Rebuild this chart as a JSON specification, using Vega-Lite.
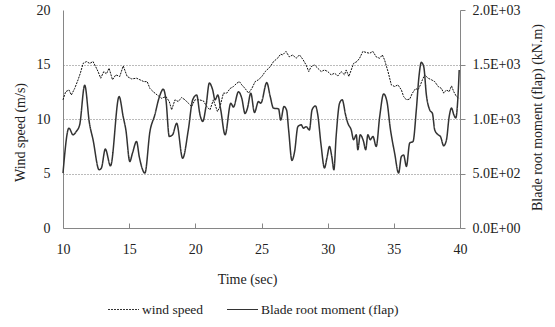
{
  "$schema": "https://vega.github.io/schema/vega-lite/v6.json",
  "width": 397,
  "height": 218,
  "autosize": {"type": "none"},
  "padding": {"left": 63, "top": 10, "right": 95, "bottom": 99},
  "background": "white",
  "config": {
    "view": {"stroke": null},
    "font": "Liberation Serif",
    "axis": {
      "labelFont": "Liberation Serif",
      "titleFont": "Liberation Serif",
      "labelFontSize": 14,
      "titleFontSize": 14,
      "titleFontWeight": "normal",
      "labelColor": "#222",
      "titleColor": "#222",
      "domainColor": "#868686",
      "tickColor": "#868686",
      "grid": false
    },
    "legend": {"labelFont": "Liberation Serif", "labelFontSize": 13.5, "labelColor": "#222"}
  },
  "datasets": {
    "wind": [
      {"time": 10.0, "value": 11.76, "series": "wind speed"},
      {"time": 10.2, "value": 12.5, "series": "wind speed"},
      {"time": 10.45, "value": 12.67, "series": "wind speed"},
      {"time": 10.63, "value": 12.2, "series": "wind speed"},
      {"time": 10.88, "value": 12.8, "series": "wind speed"},
      {"time": 11.14, "value": 13.6, "series": "wind speed"},
      {"time": 11.31, "value": 14.2, "series": "wind speed"},
      {"time": 11.52, "value": 15.1, "series": "wind speed"},
      {"time": 11.77, "value": 15.27, "series": "wind speed"},
      {"time": 12.02, "value": 15.1, "series": "wind speed"},
      {"time": 12.27, "value": 15.27, "series": "wind speed"},
      {"time": 12.47, "value": 14.8, "series": "wind speed"},
      {"time": 12.65, "value": 14.35, "series": "wind speed"},
      {"time": 12.85, "value": 13.74, "series": "wind speed"},
      {"time": 13.08, "value": 14.35, "series": "wind speed"},
      {"time": 13.28, "value": 14.14, "series": "wind speed"},
      {"time": 13.48, "value": 14.66, "series": "wind speed"},
      {"time": 13.74, "value": 13.6, "series": "wind speed"},
      {"time": 13.99, "value": 14.05, "series": "wind speed"},
      {"time": 14.29, "value": 13.9, "series": "wind speed"},
      {"time": 14.55, "value": 14.87, "series": "wind speed"},
      {"time": 14.85, "value": 13.9, "series": "wind speed"},
      {"time": 15.18, "value": 13.68, "series": "wind speed"},
      {"time": 15.56, "value": 13.74, "series": "wind speed"},
      {"time": 15.81, "value": 13.6, "series": "wind speed"},
      {"time": 16.11, "value": 13.43, "series": "wind speed"},
      {"time": 16.36, "value": 13.43, "series": "wind speed"},
      {"time": 16.57, "value": 12.8, "series": "wind speed"},
      {"time": 16.82, "value": 12.5, "series": "wind speed"},
      {"time": 17.12, "value": 12.2, "series": "wind speed"},
      {"time": 17.45, "value": 11.9, "series": "wind speed"},
      {"time": 17.78, "value": 12.06, "series": "wind speed"},
      {"time": 18.03, "value": 11.6, "series": "wind speed"},
      {"time": 18.21, "value": 10.84, "series": "wind speed"},
      {"time": 18.46, "value": 11.76, "series": "wind speed"},
      {"time": 18.71, "value": 11.6, "series": "wind speed"},
      {"time": 18.96, "value": 11.97, "series": "wind speed"},
      {"time": 19.22, "value": 11.76, "series": "wind speed"},
      {"time": 19.47, "value": 11.45, "series": "wind speed"},
      {"time": 19.72, "value": 11.15, "series": "wind speed"},
      {"time": 19.97, "value": 11.76, "series": "wind speed"},
      {"time": 20.3, "value": 11.76, "series": "wind speed"},
      {"time": 20.61, "value": 11.66, "series": "wind speed"},
      {"time": 20.86, "value": 11.15, "series": "wind speed"},
      {"time": 21.11, "value": 10.84, "series": "wind speed"},
      {"time": 21.36, "value": 11.76, "series": "wind speed"},
      {"time": 21.67, "value": 10.69, "series": "wind speed"},
      {"time": 21.87, "value": 11.15, "series": "wind speed"},
      {"time": 22.12, "value": 12.37, "series": "wind speed"},
      {"time": 22.37, "value": 12.37, "series": "wind speed"},
      {"time": 22.63, "value": 12.8, "series": "wind speed"},
      {"time": 22.88, "value": 12.98, "series": "wind speed"},
      {"time": 23.13, "value": 13.28, "series": "wind speed"},
      {"time": 23.33, "value": 13.43, "series": "wind speed"},
      {"time": 23.51, "value": 13.13, "series": "wind speed"},
      {"time": 23.76, "value": 12.8, "series": "wind speed"},
      {"time": 24.02, "value": 12.37, "series": "wind speed"},
      {"time": 24.27, "value": 12.8, "series": "wind speed"},
      {"time": 24.52, "value": 13.43, "series": "wind speed"},
      {"time": 24.77, "value": 13.6, "series": "wind speed"},
      {"time": 25.03, "value": 13.9, "series": "wind speed"},
      {"time": 25.28, "value": 14.35, "series": "wind speed"},
      {"time": 25.66, "value": 14.8, "series": "wind speed"},
      {"time": 25.91, "value": 15.27, "series": "wind speed"},
      {"time": 26.21, "value": 15.57, "series": "wind speed"},
      {"time": 26.45, "value": 15.95, "series": "wind speed"},
      {"time": 26.6, "value": 15.88, "series": "wind speed"},
      {"time": 26.85, "value": 16.2, "series": "wind speed"},
      {"time": 27.1, "value": 15.7, "series": "wind speed"},
      {"time": 27.36, "value": 15.88, "series": "wind speed"},
      {"time": 27.61, "value": 15.57, "series": "wind speed"},
      {"time": 27.87, "value": 15.88, "series": "wind speed"},
      {"time": 28.12, "value": 15.48, "series": "wind speed"},
      {"time": 28.37, "value": 14.96, "series": "wind speed"},
      {"time": 28.57, "value": 14.35, "series": "wind speed"},
      {"time": 28.75, "value": 14.8, "series": "wind speed"},
      {"time": 29.0, "value": 14.96, "series": "wind speed"},
      {"time": 29.25, "value": 14.66, "series": "wind speed"},
      {"time": 29.51, "value": 14.35, "series": "wind speed"},
      {"time": 29.76, "value": 14.5, "series": "wind speed"},
      {"time": 30.01, "value": 14.35, "series": "wind speed"},
      {"time": 30.26, "value": 14.05, "series": "wind speed"},
      {"time": 30.52, "value": 14.2, "series": "wind speed"},
      {"time": 30.77, "value": 13.95, "series": "wind speed"},
      {"time": 31.02, "value": 14.35, "series": "wind speed"},
      {"time": 31.27, "value": 14.05, "series": "wind speed"},
      {"time": 31.4, "value": 14.5, "series": "wind speed"},
      {"time": 31.6, "value": 13.9, "series": "wind speed"},
      {"time": 31.78, "value": 14.5, "series": "wind speed"},
      {"time": 31.96, "value": 15.1, "series": "wind speed"},
      {"time": 32.21, "value": 15.27, "series": "wind speed"},
      {"time": 32.41, "value": 15.57, "series": "wind speed"},
      {"time": 32.66, "value": 16.2, "series": "wind speed"},
      {"time": 32.92, "value": 16.1, "series": "wind speed"},
      {"time": 33.17, "value": 16.03, "series": "wind speed"},
      {"time": 33.42, "value": 16.2, "series": "wind speed"},
      {"time": 33.67, "value": 15.7, "series": "wind speed"},
      {"time": 33.93, "value": 15.57, "series": "wind speed"},
      {"time": 34.13, "value": 15.88, "series": "wind speed"},
      {"time": 34.3, "value": 15.42, "series": "wind speed"},
      {"time": 34.56, "value": 14.35, "series": "wind speed"},
      {"time": 34.81, "value": 13.13, "series": "wind speed"},
      {"time": 35.06, "value": 12.98, "series": "wind speed"},
      {"time": 35.31, "value": 13.13, "series": "wind speed"},
      {"time": 35.57, "value": 12.67, "series": "wind speed"},
      {"time": 35.74, "value": 12.06, "series": "wind speed"},
      {"time": 35.95, "value": 11.76, "series": "wind speed"},
      {"time": 36.2, "value": 11.82, "series": "wind speed"},
      {"time": 36.4, "value": 12.37, "series": "wind speed"},
      {"time": 36.65, "value": 12.8, "series": "wind speed"},
      {"time": 36.83, "value": 12.67, "series": "wind speed"},
      {"time": 37.01, "value": 13.13, "series": "wind speed"},
      {"time": 37.16, "value": 13.6, "series": "wind speed"},
      {"time": 37.33, "value": 14.05, "series": "wind speed"},
      {"time": 37.59, "value": 13.74, "series": "wind speed"},
      {"time": 37.84, "value": 13.6, "series": "wind speed"},
      {"time": 38.09, "value": 13.43, "series": "wind speed"},
      {"time": 38.35, "value": 12.98, "series": "wind speed"},
      {"time": 38.6, "value": 12.8, "series": "wind speed"},
      {"time": 38.77, "value": 12.37, "series": "wind speed"},
      {"time": 38.98, "value": 12.67, "series": "wind speed"},
      {"time": 39.18, "value": 12.5, "series": "wind speed"},
      {"time": 39.36, "value": 13.04, "series": "wind speed"},
      {"time": 39.53, "value": 12.5, "series": "wind speed"},
      {"time": 39.73, "value": 12.06, "series": "wind speed"},
      {"time": 39.94, "value": 11.9, "series": "wind speed"}
    ],
    "moment": [
      {"time": 10.0, "value": 504, "series": "Blade root moment (flap)"},
      {"time": 10.45, "value": 916, "series": "Blade root moment (flap)"},
      {"time": 10.76, "value": 855, "series": "Blade root moment (flap)"},
      {"time": 11.0, "value": 885, "series": "Blade root moment (flap)"},
      {"time": 11.26, "value": 947, "series": "Blade root moment (flap)"},
      {"time": 11.64, "value": 1310, "series": "Blade root moment (flap)"},
      {"time": 12.0, "value": 960, "series": "Blade root moment (flap)"},
      {"time": 12.27, "value": 810, "series": "Blade root moment (flap)"},
      {"time": 12.73, "value": 534, "series": "Blade root moment (flap)"},
      {"time": 12.9, "value": 550, "series": "Blade root moment (flap)"},
      {"time": 13.2, "value": 724, "series": "Blade root moment (flap)"},
      {"time": 13.59, "value": 570, "series": "Blade root moment (flap)"},
      {"time": 14.24, "value": 1206, "series": "Blade root moment (flap)"},
      {"time": 14.55, "value": 1020, "series": "Blade root moment (flap)"},
      {"time": 14.75, "value": 900, "series": "Blade root moment (flap)"},
      {"time": 15.05, "value": 610, "series": "Blade root moment (flap)"},
      {"time": 15.25, "value": 687, "series": "Blade root moment (flap)"},
      {"time": 15.56, "value": 794, "series": "Blade root moment (flap)"},
      {"time": 15.76, "value": 656, "series": "Blade root moment (flap)"},
      {"time": 16.19, "value": 504, "series": "Blade root moment (flap)"},
      {"time": 16.57, "value": 885, "series": "Blade root moment (flap)"},
      {"time": 16.94, "value": 1038, "series": "Blade root moment (flap)"},
      {"time": 17.25, "value": 1190, "series": "Blade root moment (flap)"},
      {"time": 17.58, "value": 1273, "series": "Blade root moment (flap)"},
      {"time": 17.78, "value": 1176, "series": "Blade root moment (flap)"},
      {"time": 18.03, "value": 840, "series": "Blade root moment (flap)"},
      {"time": 18.28, "value": 855, "series": "Blade root moment (flap)"},
      {"time": 18.59, "value": 960, "series": "Blade root moment (flap)"},
      {"time": 19.04, "value": 640, "series": "Blade root moment (flap)"},
      {"time": 19.47, "value": 900, "series": "Blade root moment (flap)"},
      {"time": 19.8, "value": 1176, "series": "Blade root moment (flap)"},
      {"time": 20.1, "value": 1220, "series": "Blade root moment (flap)"},
      {"time": 20.35, "value": 1040, "series": "Blade root moment (flap)"},
      {"time": 20.56, "value": 977, "series": "Blade root moment (flap)"},
      {"time": 20.8, "value": 1110, "series": "Blade root moment (flap)"},
      {"time": 21.06, "value": 1330, "series": "Blade root moment (flap)"},
      {"time": 21.31, "value": 1267, "series": "Blade root moment (flap)"},
      {"time": 21.49, "value": 1176, "series": "Blade root moment (flap)"},
      {"time": 21.7, "value": 1220, "series": "Blade root moment (flap)"},
      {"time": 21.92, "value": 1084, "series": "Blade root moment (flap)"},
      {"time": 22.25, "value": 855, "series": "Blade root moment (flap)"},
      {"time": 22.68, "value": 1145, "series": "Blade root moment (flap)"},
      {"time": 22.88, "value": 1110, "series": "Blade root moment (flap)"},
      {"time": 23.26, "value": 1250, "series": "Blade root moment (flap)"},
      {"time": 23.51, "value": 1190, "series": "Blade root moment (flap)"},
      {"time": 23.76, "value": 1050, "series": "Blade root moment (flap)"},
      {"time": 23.94, "value": 1100, "series": "Blade root moment (flap)"},
      {"time": 24.19, "value": 1237, "series": "Blade root moment (flap)"},
      {"time": 24.47, "value": 1060, "series": "Blade root moment (flap)"},
      {"time": 24.77, "value": 1160, "series": "Blade root moment (flap)"},
      {"time": 24.95, "value": 1145, "series": "Blade root moment (flap)"},
      {"time": 25.4, "value": 1334, "series": "Blade root moment (flap)"},
      {"time": 25.66, "value": 1206, "series": "Blade root moment (flap)"},
      {"time": 25.9, "value": 1100, "series": "Blade root moment (flap)"},
      {"time": 26.29, "value": 1093, "series": "Blade root moment (flap)"},
      {"time": 26.45, "value": 990, "series": "Blade root moment (flap)"},
      {"time": 26.7, "value": 1115, "series": "Blade root moment (flap)"},
      {"time": 26.9, "value": 1080, "series": "Blade root moment (flap)"},
      {"time": 27.05, "value": 900, "series": "Blade root moment (flap)"},
      {"time": 27.3, "value": 620, "series": "Blade root moment (flap)"},
      {"time": 27.5, "value": 700, "series": "Blade root moment (flap)"},
      {"time": 27.75, "value": 930, "series": "Blade root moment (flap)"},
      {"time": 28.0, "value": 947, "series": "Blade root moment (flap)"},
      {"time": 28.17, "value": 916, "series": "Blade root moment (flap)"},
      {"time": 28.37, "value": 930, "series": "Blade root moment (flap)"},
      {"time": 28.62, "value": 900, "series": "Blade root moment (flap)"},
      {"time": 28.82, "value": 1084, "series": "Blade root moment (flap)"},
      {"time": 29.08, "value": 1120, "series": "Blade root moment (flap)"},
      {"time": 29.25, "value": 1040, "series": "Blade root moment (flap)"},
      {"time": 29.5, "value": 763, "series": "Blade root moment (flap)"},
      {"time": 29.76, "value": 550, "series": "Blade root moment (flap)"},
      {"time": 29.94, "value": 640, "series": "Blade root moment (flap)"},
      {"time": 30.14, "value": 748, "series": "Blade root moment (flap)"},
      {"time": 30.31, "value": 656, "series": "Blade root moment (flap)"},
      {"time": 30.47, "value": 534, "series": "Blade root moment (flap)"},
      {"time": 30.64, "value": 840, "series": "Blade root moment (flap)"},
      {"time": 30.9, "value": 1145, "series": "Blade root moment (flap)"},
      {"time": 31.1, "value": 1176, "series": "Blade root moment (flap)"},
      {"time": 31.35, "value": 1040, "series": "Blade root moment (flap)"},
      {"time": 31.53, "value": 960, "series": "Blade root moment (flap)"},
      {"time": 31.78, "value": 900, "series": "Blade root moment (flap)"},
      {"time": 31.96, "value": 810, "series": "Blade root moment (flap)"},
      {"time": 32.16, "value": 855, "series": "Blade root moment (flap)"},
      {"time": 32.28, "value": 718, "series": "Blade root moment (flap)"},
      {"time": 32.46, "value": 855, "series": "Blade root moment (flap)"},
      {"time": 32.71, "value": 794, "series": "Blade root moment (flap)"},
      {"time": 32.87, "value": 718, "series": "Blade root moment (flap)"},
      {"time": 33.04, "value": 855, "series": "Blade root moment (flap)"},
      {"time": 33.22, "value": 810, "series": "Blade root moment (flap)"},
      {"time": 33.42, "value": 840, "series": "Blade root moment (flap)"},
      {"time": 33.67, "value": 748, "series": "Blade root moment (flap)"},
      {"time": 33.93, "value": 1020, "series": "Blade root moment (flap)"},
      {"time": 34.23, "value": 1230, "series": "Blade root moment (flap)"},
      {"time": 34.48, "value": 1160, "series": "Blade root moment (flap)"},
      {"time": 34.73, "value": 916, "series": "Blade root moment (flap)"},
      {"time": 35.06, "value": 687, "series": "Blade root moment (flap)"},
      {"time": 35.36, "value": 504, "series": "Blade root moment (flap)"},
      {"time": 35.57, "value": 656, "series": "Blade root moment (flap)"},
      {"time": 35.74, "value": 670, "series": "Blade root moment (flap)"},
      {"time": 35.95, "value": 565, "series": "Blade root moment (flap)"},
      {"time": 36.2, "value": 780, "series": "Blade root moment (flap)"},
      {"time": 36.45, "value": 794, "series": "Blade root moment (flap)"},
      {"time": 36.7, "value": 1084, "series": "Blade root moment (flap)"},
      {"time": 36.9, "value": 1390, "series": "Blade root moment (flap)"},
      {"time": 37.08, "value": 1520, "series": "Blade root moment (flap)"},
      {"time": 37.26, "value": 1480, "series": "Blade root moment (flap)"},
      {"time": 37.46, "value": 1220, "series": "Blade root moment (flap)"},
      {"time": 37.71, "value": 1084, "series": "Blade root moment (flap)"},
      {"time": 37.92, "value": 1050, "series": "Blade root moment (flap)"},
      {"time": 38.09, "value": 900, "series": "Blade root moment (flap)"},
      {"time": 38.35, "value": 855, "series": "Blade root moment (flap)"},
      {"time": 38.52, "value": 840, "series": "Blade root moment (flap)"},
      {"time": 38.77, "value": 754, "series": "Blade root moment (flap)"},
      {"time": 38.98, "value": 810, "series": "Blade root moment (flap)"},
      {"time": 39.18, "value": 1020, "series": "Blade root moment (flap)"},
      {"time": 39.36, "value": 1100, "series": "Blade root moment (flap)"},
      {"time": 39.53, "value": 1040, "series": "Blade root moment (flap)"},
      {"time": 39.68, "value": 1010, "series": "Blade root moment (flap)"},
      {"time": 39.86, "value": 1237, "series": "Blade root moment (flap)"},
      {"time": 39.94, "value": 1450, "series": "Blade root moment (flap)"}
    ]
  },
  "layer": [
    {
      "data": {"name": "wind"},
      "mark": {"type": "line", "strokeWidth": 1, "color": "#111"},
      "encoding": {
        "x": {
          "field": "time", "type": "quantitative",
          "scale": {"domain": [10, 40], "nice": false},
          "axis": {
            "title": "Time (sec)",
            "values": [10, 15, 20, 25, 30, 35, 40],
            "labelFlush": false,
            "tickSize": -5,
            "labelPadding": 19,
            "titlePadding": 16,
            "titleX": 184
          }
        },
        "y": {
          "field": "value", "type": "quantitative",
          "scale": {"domain": [0, 20], "nice": false},
          "axis": {
            "orient": "left",
            "title": "Wind speed (m/s)",
            "values": [0, 5, 10, 15, 20],
            "ticks": false,
            "labelPadding": 13,
            "titlePadding": 9,
            "titleY": 122,
            "grid": true,
            "gridColor": "#777",
            "gridDash": [1, 2],
            "gridOpacity": {"condition": {"test": "datum.value == 0 || datum.value == 20", "value": 0}, "value": 1}
          }
        },
        "strokeDash": {
          "field": "series", "type": "nominal",
          "scale": {"domain": ["wind speed", "Blade root moment (flap)"], "range": [[2, 1], [1, 0]]},
          "legend": {
            "title": null,
            "orient": "none",
            "direction": "horizontal",
            "legendX": 44,
            "legendY": 283,
            "padding": 0,
            "symbolType": "stroke",
            "symbolSize": 961,
            "symbolStrokeColor": "#333",
            "symbolStrokeWidth": 1.2,
            "labelOffset": 2,
            "columnPadding": 20
          }
        }
      }
    },
    {
      "data": {"name": "moment"},
      "mark": {"type": "line", "strokeWidth": 1.5, "color": "#333", "interpolate": "monotone"},
      "encoding": {
        "x": {"field": "time", "type": "quantitative"},
        "y": {
          "field": "value", "type": "quantitative",
          "scale": {"domain": [0, 2000], "nice": false},
          "axis": {
            "orient": "right",
            "title": "Blade root moment  (flap)  (kN.m)",
            "titleAngle": 270,
            "titleY": 107,
            "values": [0, 500, 1000, 1500, 2000],
            "labelExpr": "datum.value == 0 ? '0.0E+00' : (datum.value < 1000 ? format(datum.value / 100, '.1f') + 'E+02' : format(datum.value / 1000, '.1f') + 'E+03')",
            "tickSize": 5,
            "labelPadding": 7,
            "titlePadding": 25
          }
        },
        "strokeDash": {"field": "series", "type": "nominal"}
      }
    }
  ],
  "resolve": {"scale": {"y": "independent"}}
}
